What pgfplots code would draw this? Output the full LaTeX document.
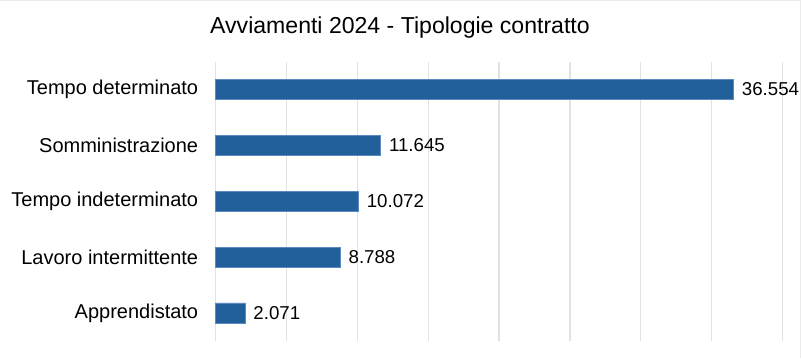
\documentclass[border=0pt]{standalone}
\usepackage{pgfplots}
\pgfplotsset{compat=1.18}
\usepackage{fontspec}
\setmainfont{Liberation Sans}
\definecolor{barblue}{HTML}{22609B}
\definecolor{baredge}{HTML}{5A8AC0}
\definecolor{gridgray}{HTML}{E2E2E2}
\definecolor{framegray}{HTML}{EBEBEB}
\begin{document}
\begin{tikzpicture}
\path[use as bounding box] (0,0) rectangle (600.75pt,268.5pt);
\draw[framegray, line width=0.75pt] (0,268.1pt) -- (600.4pt,268.1pt) -- (600.4pt,0);
\node[font=\fontsize{17.3}{20}\selectfont, anchor=center] at (300pt,247.5pt) {Avviamenti 2024 - Tipologie contratto};
\begin{axis}[
  at={(161.8pt,12.4pt)}, anchor=south west,
  width=425pt, height=209.6pt, scale only axis,
  xbar, bar width=15pt,
  xmin=0, xmax=40000,
  ymin=-0.51, ymax=4.49,
  xtick={0,5000,...,40000}, xticklabels={}, scaled x ticks=false,
  xmajorgrids, grid style={gridgray, line width=0.9pt},
  ytick={0,1,2,3,4},
  yticklabels={Apprendistato, Lavoro intermittente, Tempo indeterminato, Somministrazione, Tempo determinato},
  yticklabel style={font=\fontsize{15}{17}\selectfont, anchor=east, inner sep=0pt, xshift=-13pt},
  axis line style={draw=none},
  major tick length=0pt,
  point meta=explicit symbolic,
  nodes near coords,
  every node near coord/.append style={font=\fontsize{14}{17}\selectfont, anchor=west, inner sep=0pt, xshift=6pt},
  clip=false,
]
\addplot[fill=barblue, draw=baredge, line width=0.6pt] coordinates {
  (2071,0) [2.071]
  (8788,1) [8.788]
  (10072,2) [10.072]
  (11645,3) [11.645]
  (36554,4) [36.554]
};
\end{axis}
\end{tikzpicture}
\end{document}
